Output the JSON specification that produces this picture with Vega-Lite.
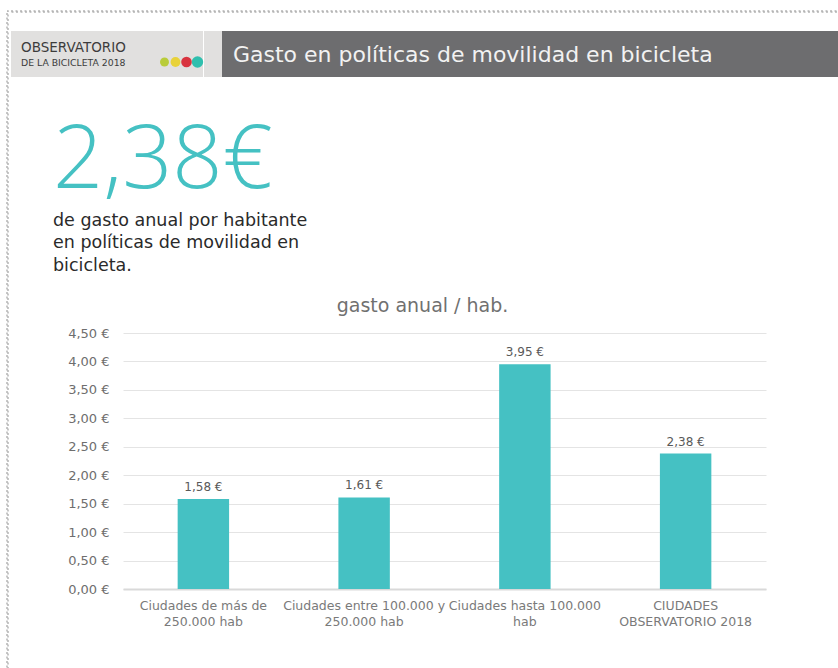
{
  "$schema": "https://vega.github.io/schema/vega-lite/v6.json",
  "padding": {"left": 6, "top": 10, "right": 0, "bottom": 0},
  "background": "white",
  "config": {
    "font": "DejaVu Sans",
    "view": {"stroke": null},
    "concat": {"spacing": 0},
    "locale": {"number": {"decimal": ",", "thousands": ".", "grouping": [3], "currency": ["", " €"]}}
  },
  "spacing": 1,
  "hconcat": [
    {
      "width": 1, "height": 658,
      "view": {"stroke": "#b5b5b5", "strokeWidth": 1.5, "strokeDash": [2, 2.5]},
      "data": {"values": []},
      "mark": {"type": "text"},
      "encoding": {}
    },
    {
      "spacing": 0,
      "vconcat": [
        {
          "width": 831, "height": 1,
          "view": {"stroke": "#b5b5b5", "strokeWidth": 1.5, "strokeDash": [2, 2.5]},
          "data": {"values": []},
          "mark": {"type": "text"},
          "encoding": {}
        },
        {
          "width": 831, "height": 18,
          "data": {"values": []},
          "mark": {"type": "text"},
          "encoding": {}
        },
        {
          "spacing": 0,
          "hconcat": [
            {
              "width": 148, "height": 46,
              "view": {"fill": "#e1e0df", "stroke": null},
              "data": {"values": [{}]},
              "mark": {"type": "text"},
              "encoding": {},
              "title": {"text": "OBSERVATORIO", "subtitle": "DE LA BICICLETA 2018", "anchor": "start", "dx": 10, "offset": -37, "fontSize": 13.5, "fontWeight": "normal", "color": "#3c3c3c", "subtitleFontSize": 9.3, "subtitleColor": "#3c3c3c", "subtitlePadding": 4}
            },
            {
              "width": 44, "height": 46,
              "view": {"fill": "#e1e0df", "stroke": null},
              "data": {"values": [{"rueda": "1"}, {"rueda": "2"}, {"rueda": "3"}, {"rueda": "4"}]},
              "mark": {"type": "circle", "opacity": 1, "yOffset": 8},
              "encoding": {
                "x": {"field": "rueda", "type": "ordinal", "axis": null},
                "color": {"field": "rueda", "type": "nominal", "legend": null, "scale": {"range": ["#b9cc3a", "#e8d23a", "#d8343f", "#2fbfae"]}},
                "size": {"field": "rueda", "type": "ordinal", "legend": null, "scale": {"range": [80, 130, 220, 480]}}
              }
            },
            {
              "width": 18, "height": 46,
              "view": {"fill": "#e1e0df", "stroke": null},
              "data": {"values": [{}]},
              "mark": {"type": "text"},
              "encoding": {}
            },
            {
              "width": 621, "height": 46,
              "view": {"fill": "#6d6d6f", "stroke": null},
              "data": {"values": [{}]},
              "mark": {"type": "text"},
              "encoding": {},
              "title": {"text": "Gasto en políticas de movilidad en bicicleta", "anchor": "start", "dx": 11, "offset": -36, "fontSize": 22, "fontWeight": "normal", "color": "#f2f2f2"}
            }
          ]
        },
        {
          "width": 780, "height": 40,
          "data": {"values": [{}]},
          "mark": {"type": "text"},
          "encoding": {}
        },
        {
          "width": 780, "height": 13,
          "data": {"values": [{}]},
          "mark": {"type": "text"},
          "encoding": {},
          "title": {
            "text": "2,38€",
            "subtitle": ["de gasto anual por habitante", "en políticas de movilidad en", "bicicleta."],
            "anchor": "start", "dx": 42, "offset": 10,
            "font": "Open Sans",
            "fontSize": 88, "fontWeight": 300, "color": "#45c1c3",
            "subtitleFont": "DejaVu Sans",
            "subtitleFontSize": 17.5, "subtitleColor": "#2a2a2a", "subtitleLineHeight": 22.5, "subtitlePadding": 6
          }
        },
        {
          "spacing": 0,
          "hconcat": [
            {
              "width": 56, "height": 1,
              "data": {"values": [{}]},
              "mark": {"type": "text"},
              "encoding": {}
            },
            {
              "width": 643, "height": 256,
              "title": {"text": "gasto anual / hab.", "fontSize": 19, "fontWeight": "normal", "color": "#707070", "anchor": "middle", "dx": -22, "offset": 11},
              "data": {"values": [
                {"categoria": "Ciudades de más de 250.000 hab", "gasto": 1.58},
                {"categoria": "Ciudades entre 100.000 y 250.000 hab", "gasto": 1.61},
                {"categoria": "Ciudades hasta 100.000 hab", "gasto": 3.95},
                {"categoria": "CIUDADES OBSERVATORIO 2018", "gasto": 2.38}
              ]},
              "encoding": {
                "x": {"field": "categoria", "type": "nominal", "sort": null, "title": null,
                  "scale": {"paddingInner": 0.68, "paddingOuter": 0.34},
                  "axis": {"labelAngle": 0, "ticks": false, "domainColor": "#d9d9d9", "domainWidth": 2, "labelColor": "#7a7a7a", "labelFontSize": 12.5, "labelPadding": 10, "labelLimit": 260, "labelOverlap": false, "labelLineHeight": 16,
                    "labelExpr": "datum.value == 'Ciudades de más de 250.000 hab' ? ['Ciudades de más de', '250.000 hab'] : datum.value == 'Ciudades entre 100.000 y 250.000 hab' ? ['Ciudades entre 100.000 y', '250.000 hab'] : datum.value == 'Ciudades hasta 100.000 hab' ? ['Ciudades hasta 100.000', 'hab'] : ['CIUDADES', 'OBSERVATORIO 2018']"}},
                "y": {"field": "gasto", "type": "quantitative", "title": null,
                  "scale": {"domain": [0, 4.5]},
                  "axis": {"values": [0, 0.5, 1, 1.5, 2, 2.5, 3, 3.5, 4, 4.5], "format": "$.2f", "ticks": false, "domain": false, "gridColor": "#e4e4e4", "labelColor": "#6e6e6e", "labelFontSize": 13, "labelPadding": 14}}
              },
              "layer": [
                {"mark": {"type": "bar", "color": "#45c1c3"}},
                {"mark": {"type": "text", "dy": -12, "fontSize": 12, "color": "#595959"},
                 "encoding": {"text": {"field": "gasto", "type": "quantitative", "format": "$.2f"}}}
              ]
            }
          ]
        }
      ]
    }
  ]
}
